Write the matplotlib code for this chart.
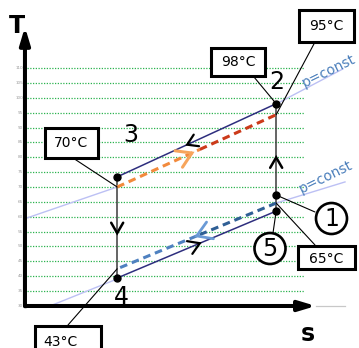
import numpy as np
import matplotlib
matplotlib.use('Agg')
import matplotlib.pyplot as plt
from matplotlib.patches import Rectangle, Circle
from matplotlib.transforms import Affine2D

W, H = 359, 348

# temperature grid (deg C) and its tiny tick labels
grid_T = [35, 40, 45, 50, 55, 60, 65, 70, 75, 80, 85, 90, 95, 100, 105, 110]
tick_T = [30] + grid_T

# entropy of the two vertical branches
s_low, s_high = 0.58, 1.58

# refrigerant state points 1..5
point_s = [s_high, s_high, s_low, s_low, s_high]
point_T = [67.3, 98.0, 73.4, 39.4, 61.9]

# cycle branches
cond_s, cond_T = [s_high, s_low], [98.0, 73.4]     # 2 -> 3
evap_s, evap_T = [s_low, s_high], [39.4, 61.9]     # 4 -> 5
comp_s, comp_T = [s_high, s_high], [61.9, 98.0]    # 5 -> 1 -> 2
expn_s, expn_T = [s_low, s_low], [73.4, 39.4]      # 3 -> 4

# water streams
hot_s, hot_T = [s_low, s_high], [70.0, 94.3]       # 70 -> 95
cold_s, cold_T = [s_high, s_low], [64.6, 42.5]     # 65 -> 43

# isobars (visible pieces only)
iso_hi_s = [0.013, s_low, np.nan, s_high, 2.0]
iso_hi_T = [59.6, 70.0, np.nan, 97.9, 109.7]
iso_lo_s = [0.157, s_low, np.nan, s_high, 2.013]
iso_lo_T = [30.0, 39.1, np.nan, 64.6, 71.7]


def chevron(ax, xs, ys, frac, length, angle, **kw):
    """Open arrow head sitting on segment xs/ys, pointing along it."""
    p0 = ax.transData.transform((xs[0], ys[0]))
    p1 = ax.transData.transform((xs[1], ys[1]))
    tip = p0 + frac * (p1 - p0)
    back = (p0 - p1) / np.hypot(*(p0 - p1))
    arms = []
    for a in (angle, -angle):
        r = np.radians(a)
        rot = np.array([[np.cos(r), -np.sin(r)], [np.sin(r), np.cos(r)]])
        arms.append(tip + length * rot @ back)
    pts = ax.transData.inverted().transform([arms[0], tip, arms[1]])
    ax.plot(pts[:, 0], pts[:, 1], solid_capstyle='round',
            solid_joinstyle='miter', zorder=6, **kw)


def split(xs, ys, frac):
    xm = xs[0] + frac * (xs[1] - xs[0])
    ym = ys[0] + frac * (ys[1] - ys[0])
    return ([xs[0], xm], [ys[0], ym]), ([xm, xs[1]], [ym, ys[1]])


fig = plt.figure(figsize=(W / 100, H / 100), dpi=100)
ax = fig.add_axes([0, 0, 1, 1])
ax.set_xlim(-0.157, 2.101)
ax.set_ylim(15.88, 132.86)
ax.axis('off')

# pixel coordinates (y down) for the decorations
pix = Affine2D().scale(1 / W, -1 / H).translate(0, 1) + fig.transFigure

# grid
ax.hlines(grid_T, 0.013, 1.755, colors='#2bb34f', lw=0.9,
          linestyles=(0, (1, 1.2)), zorder=1)
for t in tick_T:
    ax.text(-0.012, t, str(t), fontsize=3, ha='right', va='center', color='#9a9a9a')

# axes
ax.annotate('', xy=(0, 123.8), xytext=(0, 30),
            arrowprops=dict(arrowstyle='-|>,head_length=1.0,head_width=0.3',
                            lw=2.9, color='black', shrinkA=0, shrinkB=0))
ax.annotate('', xy=(1.83, 30), xytext=(0, 30),
            arrowprops=dict(arrowstyle='-|>,head_length=1.0,head_width=0.3',
                            lw=2.9, color='black', shrinkA=0, shrinkB=0))
ax.plot(0, 30, 's', ms=2.1, color='black')
ax.plot([1.83, 2.01], [30, 30], color='#c8c8c8', lw=0.9, zorder=0)

# isobars
ax.plot(iso_hi_s, iso_hi_T, color='#bcc0f4', lw=1.0, zorder=2)
ax.plot(iso_lo_s, iso_lo_T, color='#bcc0f4', lw=1.0, zorder=2)
ax.text(329, 71, 'p=const', transform=pix, rotation=26, fontsize=10,
        color='#4a7ebb', ha='center', va='center')
ax.text(326, 177, 'p=const', transform=pix, rotation=26, fontsize=10,
        color='#4a7ebb', ha='center', va='center')

# cycle lines
ax.plot(cond_s, cond_T, color='#2e2e7e', lw=1.1, zorder=3)
ax.plot(evap_s, evap_T, color='#2e2e7e', lw=1.1, zorder=3)
ax.plot(comp_s, comp_T, color='#3a3a3a', lw=1.1, zorder=3)
ax.plot(expn_s, expn_T, color='#3a3a3a', lw=1.1, zorder=3)

# water streams
hot_a, hot_b = split(hot_s, hot_T, 0.52)
ax.plot(*hot_a, color='#f28a3c', lw=2.2, dashes=(2.5, 1.6), zorder=4)
ax.plot(*hot_b, color='#cc3a1a', lw=2.2, dashes=(2.5, 1.6), zorder=4)
cold_a, cold_b = split(cold_s, cold_T, 0.5)
ax.plot(*cold_a, color='#2f5f95', lw=2.2, dashes=(2.5, 1.6), zorder=4)
ax.plot(*cold_b, color='#4f81c0', lw=2.2, dashes=(2.5, 1.6), zorder=4)

# direction arrows
chevron(ax, cond_s, cond_T, 0.56, 12, 32, color='black', lw=1.6)
chevron(ax, evap_s, evap_T, 0.52, 13, 32, color='black', lw=1.6)
chevron(ax, comp_s, comp_T, 0.5, 12, 30, color='black', lw=1.8)
chevron(ax, expn_s, expn_T, 0.556, 12, 30, color='black', lw=1.8)
chevron(ax, hot_s, hot_T, 0.47, 17, 32, color='#f7a55c', lw=2.2)
chevron(ax, cold_s, cold_T, 0.5, 17, 32, color='#6a9ad6', lw=2.0)

# state points
ax.plot(point_s, point_T, 'o', color='black', ms=5, zorder=7, ls='none')

# leader lines
leaders = [((254, 77), (s_high, 98.0)), ((315, 42), (s_high, 94.3)),
           ((73, 158), (s_low, 70.0)), ((68, 325), (s_low, 42.5)),
           ((315, 245), (s_high, 64.6)), ((315, 212), (s_high, 67.3)),
           ((273, 233), (s_high, 61.9))]
for start, end in leaders:
    ax.annotate('', xy=end, xycoords='data', xytext=start, textcoords=pix,
                arrowprops=dict(arrowstyle='-', lw=0.8, color='black',
                                shrinkA=0, shrinkB=0), zorder=5)

# temperature boxes
boxes = [('98°C', (210.5, 47.5, 264.5, 76), (238, 62)),
         ('95°C', (298.5, 9.5, 353.5, 41.5), (326, 26)),
         ('70°C', (44.5, 127.5, 97.5, 157.5), (71, 143)),
         ('43°C', (34.5, 325.5, 100.5, 362), (60, 342)),
         ('65°C', (298, 245.5, 355, 269), (326, 259))]
for label, (x0, y0, x1, y1), (tx, ty) in boxes:
    ax.add_patch(Rectangle((x0, y0), x1 - x0, y1 - y0, transform=pix,
                           facecolor='white', edgecolor='black', lw=2.2,
                           zorder=8, clip_on=False))
    ax.text(tx, ty, label, transform=pix, fontsize=10, ha='center',
            va='center', zorder=9)

# state numbers
ax.text(277, 82, '2', transform=pix, fontsize=17, ha='center', va='center')
ax.text(131, 135, '3', transform=pix, fontsize=17, ha='center', va='center')
ax.text(121, 297, '4', transform=pix, fontsize=17, ha='center', va='center')
for num, (cx, cy) in [('1', (331.5, 218.5)), ('5', (270, 248.5))]:
    ax.add_patch(Circle((cx, cy), 15.5, transform=pix, facecolor='white',
                        edgecolor='black', lw=1.9, zorder=8, clip_on=False))
    ax.text(cx, cy, num, transform=pix, fontsize=17, ha='center',
            va='center', zorder=9)

# axis labels
ax.text(16.5, 26, 'T', transform=pix, fontsize=17, fontweight='bold',
        ha='center', va='center')
ax.text(307.5, 334, 's', transform=pix, fontsize=17, fontweight='bold',
        ha='center', va='center')

fig.savefig('out.png', dpi=100)
